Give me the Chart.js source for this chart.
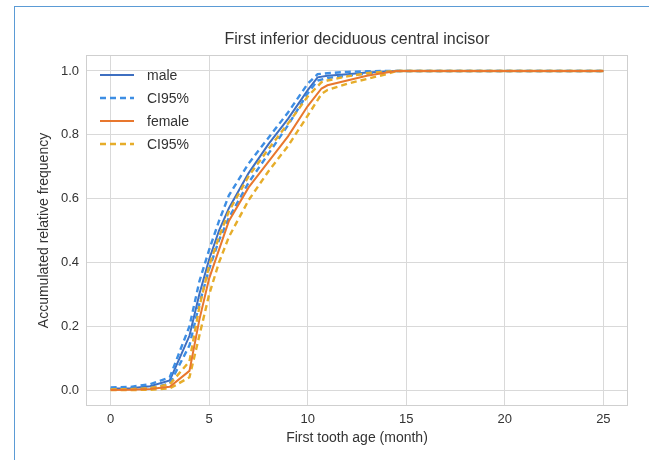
<!DOCTYPE html>
<html lang="en">
<head>
  <meta charset="UTF-8" />
  <title>First inferior deciduous central incisor</title>
  <script src="https://cdn.jsdelivr.net/npm/chart.js@4"></script>
  <style>
    html, body { margin: 0; padding: 0; background: #fff; }
    #wrap { position: relative; width: 649px; height: 460px; }
    #frame {
      position: absolute; left: 14px; top: 6px; right: 0; bottom: 0;
      border-top: 1px solid #5b9bd5; border-left: 1px solid #5b9bd5;
      pointer-events: none;
    }
  </style>
</head>
<body>
  <div id="wrap">
    <canvas id="chart" width="649" height="460"></canvas>
    <div id="frame"></div>
  </div>

  <script>
    // month values (x) and accumulated relative frequency (y)
    const maleX     = [0, 1, 2, 3, 4, 4.5, 5, 5.5, 6, 7, 8, 9, 10, 10.5, 11, 12, 13, 14, 14.5, 25];
    const male      = [0.005, 0.006, 0.012, 0.03, 0.17, 0.30, 0.41, 0.50, 0.57, 0.68, 0.77, 0.85, 0.94, 0.98, 0.985, 0.99, 0.995, 0.998, 1.0, 1.0];
    const maleHigh  = [0.008, 0.010, 0.018, 0.04, 0.20, 0.34, 0.44, 0.53, 0.61, 0.71, 0.79, 0.87, 0.96, 0.99, 0.993, 0.997, 0.999, 1.0, 1.0, 1.0];
    const maleLow   = [0.002, 0.003, 0.006, 0.02, 0.14, 0.27, 0.38, 0.47, 0.54, 0.65, 0.74, 0.83, 0.93, 0.97, 0.978, 0.985, 0.992, 0.997, 1.0, 1.0];

    const femaleX    = [0, 1, 2, 3, 4, 4.5, 5, 5.5, 6, 7, 8, 9, 10, 10.7, 11, 12, 13, 14, 14.5, 25];
    const female     = [0.0, 0.001, 0.003, 0.01, 0.06, 0.22, 0.35, 0.44, 0.53, 0.635, 0.715, 0.795, 0.89, 0.945, 0.955, 0.97, 0.985, 0.995, 1.0, 1.0];
    const femaleHigh = [0.002, 0.003, 0.006, 0.018, 0.09, 0.26, 0.39, 0.48, 0.56, 0.67, 0.755, 0.835, 0.92, 0.965, 0.97, 0.983, 0.993, 0.998, 1.0, 1.0];
    const femaleLow  = [0.0, 0.0, 0.001, 0.005, 0.04, 0.17, 0.30, 0.40, 0.48, 0.595, 0.685, 0.765, 0.86, 0.928, 0.94, 0.96, 0.975, 0.99, 1.0, 1.0];

    const xTicks = [0, 5, 10, 15, 20, 25];
    const yTicks = [0, 0.2, 0.4, 0.6, 0.8, 1.0];

    const pts = (xs, ys) => xs.map((x, i) => ({ x: x, y: ys[i] }));

    const BLUE = '#3e6fc1', BLUE_CI = '#3d8ee4';
    const ORANGE = '#e8772e', GOLD = '#e6ad2a';
    const FONT = "'Liberation Sans', Arial, sans-serif";
    const TXT = '#333333';

    const line = (label, data, color, dashed, order, inLegend) => ({
      label, data, borderColor: color, backgroundColor: color,
      borderWidth: dashed ? 2.4 : 2, borderDash: dashed ? [6, 4] : [],
      pointRadius: 0, tension: 0, fill: false, order, inLegend
    });

    // title, plot frame and the in-plot legend
    const decor = {
      id: 'decor',
      beforeDatasetsDraw(chart) {
        const { ctx, chartArea: a } = chart;
        ctx.save();
        ctx.strokeStyle = '#cfcfcf';
        ctx.lineWidth = 1;
        ctx.strokeRect(a.left + 0.5, a.top + 0.5, a.right - a.left - 1, a.bottom - a.top - 1);
        ctx.restore();
      },
      afterDraw(chart) {
        const { ctx, chartArea: a } = chart;
        ctx.save();
        ctx.fillStyle = TXT;
        ctx.font = '16px ' + FONT;
        ctx.textAlign = 'center';
        ctx.textBaseline = 'middle';
        ctx.fillText('First inferior deciduous central incisor', (a.left + a.right) / 2, 40);

        let y = 75;
        ctx.font = '14px ' + FONT;
        ctx.textAlign = 'left';
        chart.data.datasets.forEach(ds => {
          if (!ds.inLegend) return;
          ctx.strokeStyle = ds.borderColor;
          ctx.lineWidth = ds.borderWidth;
          ctx.setLineDash(ds.borderDash);
          ctx.beginPath();
          ctx.moveTo(100, y);
          ctx.lineTo(134, y);
          ctx.stroke();
          ctx.setLineDash([]);
          ctx.fillText(ds.label, 147, y + 1);
          y += 23;
        });
        ctx.restore();
      }
    };

    new Chart(document.getElementById('chart'), {
      type: 'line',
      data: {
        datasets: [
          line('male', pts(maleX, male), BLUE, false, 6, true),
          line('CI95%', pts(maleX, maleHigh), BLUE_CI, true, 5, true),
          line('CI95%', pts(maleX, maleLow), BLUE_CI, true, 4, false),
          line('female', pts(femaleX, female), ORANGE, false, 1, true),
          line('CI95%', pts(femaleX, femaleHigh), GOLD, true, 3, true),
          line('CI95%', pts(femaleX, femaleLow), GOLD, true, 2, false)
        ]
      },
      options: {
        responsive: false,
        animation: false,
        layout: { padding: { top: 55, right: 21, bottom: 0, left: 0 } },
        plugins: { legend: { display: false }, title: { display: false }, tooltip: { enabled: false } },
        scales: {
          x: {
            type: 'linear', min: -1.25, max: 26.25,
            afterBuildTicks: s => { s.ticks = xTicks.map(v => ({ value: v })); },
            afterFit: s => { s.height = 54; },
            grid: { color: '#d9d9d9', drawTicks: false },
            border: { display: false },
            ticks: { color: TXT, font: { family: FONT, size: 13 }, padding: 6 },
            title: { display: true, text: 'First tooth age (month)', color: TXT,
                     font: { family: FONT, size: 14 }, padding: { top: 0, bottom: 13.6 } }
          },
          y: {
            type: 'linear', min: -0.05, max: 1.05,
            afterBuildTicks: s => { s.ticks = yTicks.map(v => ({ value: v })); },
            afterFit: s => { s.width = 86; },
            grid: { color: '#d9d9d9', drawTicks: false },
            border: { display: false },
            ticks: { color: TXT, font: { family: FONT, size: 13 }, padding: 7,
                     callback: v => v.toFixed(1) },
            title: { display: true, text: 'Accumulated relative frequency', color: TXT,
                     font: { family: FONT, size: 14 }, padding: { top: 35.6, bottom: 0 } }
          }
        }
      },
      plugins: [decor]
    });
  </script>
</body>
</html>
